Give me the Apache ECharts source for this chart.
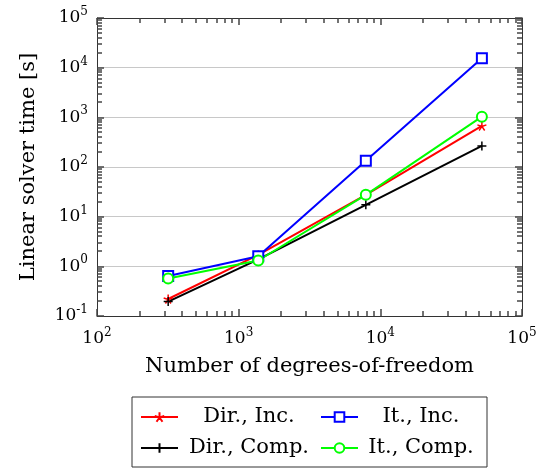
<!DOCTYPE html>
<html>
<head>
<meta charset="utf-8">
<script src="https://cdn.jsdelivr.net/npm/echarts@6/dist/echarts.min.js"></script>
<style>
  html, body { margin: 0; padding: 0; background: #fff; }
  #chart { width: 542px; height: 468px; }
</style>
</head>
<body>
<div id="chart"></div>
<script>
// 数据
var dofs = [318, 1375, 7900, 52100];
var dirInc = [0.22, 1.7, 27.5, 670];
var itInc = [0.64, 1.6, 133, 15400];
var dirComp = [0.195, 1.38, 17.3, 265];
var itComp = [0.57, 1.31, 27.5, 1030];
var seriesNames = ['Dir., Inc.', 'It., Inc.', 'Dir., Comp.', 'It., Comp.'];

var FONT = 'DejaVu Serif';
var AXIS_COLOR = '#333';
var TICK_COLOR = '#444';

// 次刻度 2..9 x 10^k
var minorX = [];
for (var k = 2; k < 5; k++) for (var m = 2; m < 10; m++) minorX.push(m * Math.pow(10, k));
var minorY = [];
for (var k = -1; k < 5; k++) for (var m = 2; m < 10; m++) minorY.push(m * Math.pow(10, k));

function pairs(ys) {
    return dofs.map(function (x, i) { return [x, ys[i]]; });
}

function powLabel(v) {
    var e = Math.round(Math.log(v) / Math.LN10);
    return '{b|10}{s|' + e + '}';
}

var labelRich = {
    b: { fontFamily: FONT, fontSize: 17, color: '#000' },
    s: { fontFamily: FONT, fontSize: 12, color: '#000', padding: [0, 0, 12, 0] }
};

var starPath = 'path://M0,0L0,-1M0,0L0.951,-0.309M0,0L0.588,0.809M0,0L-0.588,0.809M0,0L-0.951,-0.309';
var plusPath = 'path://M0,-1L0,1M-1,0L1,0';

function lineSeries(name, data, color, symbol, size, bw) {
    return {
        name: name,
        type: 'line',
        data: pairs(data),
        symbol: symbol,
        symbolSize: size,
        showAllSymbol: true,
        lineStyle: { color: color, width: 2 },
        itemStyle: { color: color, borderColor: color, borderWidth: bw },
        z: 5
    };
}

function axisOpts(pos, showLabel) {
    return {
        type: 'log',
        position: pos,
        axisLine: { show: true, onZero: false, lineStyle: { color: AXIS_COLOR, width: 1 } },
        axisTick: { show: true, inside: true, length: 7, lineStyle: { color: TICK_COLOR, width: 1.5 } },
        axisLabel: { show: showLabel },
        splitLine: { show: false }
    };
}

var xBottom = axisOpts('bottom', true);
xBottom.min = 100; xBottom.max = 100000;
xBottom.name = 'Number of degrees-of-freedom';
xBottom.nameLocation = 'middle';
xBottom.nameGap = 40;
xBottom.nameTextStyle = { fontFamily: FONT, fontSize: 21, color: '#000' };
xBottom.axisLabel = { margin: 11, formatter: powLabel, rich: labelRich };

var xTop = axisOpts('top', false);
xTop.min = 100; xTop.max = 100000;

var yLeft = axisOpts('left', true);
yLeft.min = 0.1; yLeft.max = 100000;
yLeft.name = 'Linear solver time [s]';
yLeft.nameLocation = 'middle';
yLeft.nameGap = 58;
yLeft.nameTextStyle = { fontFamily: FONT, fontSize: 21, color: '#000' };
yLeft.axisLabel = { margin: 9, formatter: powLabel, rich: labelRich };
yLeft.splitLine = { show: true, lineStyle: { color: '#c8c8c8', width: 1 } };

var yRight = axisOpts('right', false);
yRight.min = 0.1; yRight.max = 100000;

var option = {
    animation: false,
    backgroundColor: '#fff',
    grid: { left: 97, right: 20, top: 18, bottom: 152 },
    xAxis: [xBottom, xTop],
    yAxis: [yLeft, yRight],
    legend: {
        data: seriesNames,
        left: 132,
        top: 397,
        width: 340,
        orient: 'horizontal',
        itemWidth: 37,
        itemHeight: 12,
        itemGap: 5,
        padding: [7, 8, 6, 8],
        borderColor: '#333',
        borderWidth: 1,
        borderRadius: 0,
        textStyle: {
            fontFamily: FONT, fontSize: 21, color: '#000', lineHeight: 26,
            rich: {
                a: { fontFamily: FONT, fontSize: 21, color: '#000', width: 132, align: 'center', lineHeight: 26 },
                c: { fontFamily: FONT, fontSize: 21, color: '#000', width: 116, align: 'center', lineHeight: 26 }
            }
        },
        formatter: function (name) {
            return (name.indexOf('Dir') === 0 ? '{a|' : '{c|') + name + '}';
        }
    },
    series: [
        lineSeries(seriesNames[0], dirInc, '#ff0000', starPath, 9, 1.5),
        lineSeries(seriesNames[1], itInc, '#0000ff', 'emptyRect', 10, 2),
        lineSeries(seriesNames[2], dirComp, '#000000', plusPath, 9, 1.5),
        lineSeries(seriesNames[3], itComp, '#00ff00', 'emptyCircle', 10, 2)
    ]
};

var chart = echarts.init(document.getElementById('chart'));
chart.setOption(option);

// 次刻度：用坐标轴换算成像素后画在四条边上
function tick(x1, y1, x2, y2) {
    return { type: 'line', silent: true, z: 100,
        shape: { x1: x1, y1: y1, x2: x2, y2: y2 },
        style: { stroke: TICK_COLOR, lineWidth: 1.5 } };
}
var xl = chart.convertToPixel({ xAxisIndex: 0 }, 100);
var xr = chart.convertToPixel({ xAxisIndex: 0 }, 100000);
var yb = chart.convertToPixel({ yAxisIndex: 0 }, 0.1);
var yt = chart.convertToPixel({ yAxisIndex: 0 }, 100000);
var ticks = [];
minorX.forEach(function (v) {
    var px = Math.round(chart.convertToPixel({ xAxisIndex: 0 }, v));
    ticks.push(tick(px, yb, px, yb - 5));
    ticks.push(tick(px, yt, px, yt + 5));
});
minorY.forEach(function (v) {
    var py = Math.round(chart.convertToPixel({ yAxisIndex: 0 }, v));
    ticks.push(tick(xl, py, xl + 5, py));
    ticks.push(tick(xr, py, xr - 5, py));
});
chart.setOption({ graphic: { elements: ticks } });
</script>
</body>
</html>
